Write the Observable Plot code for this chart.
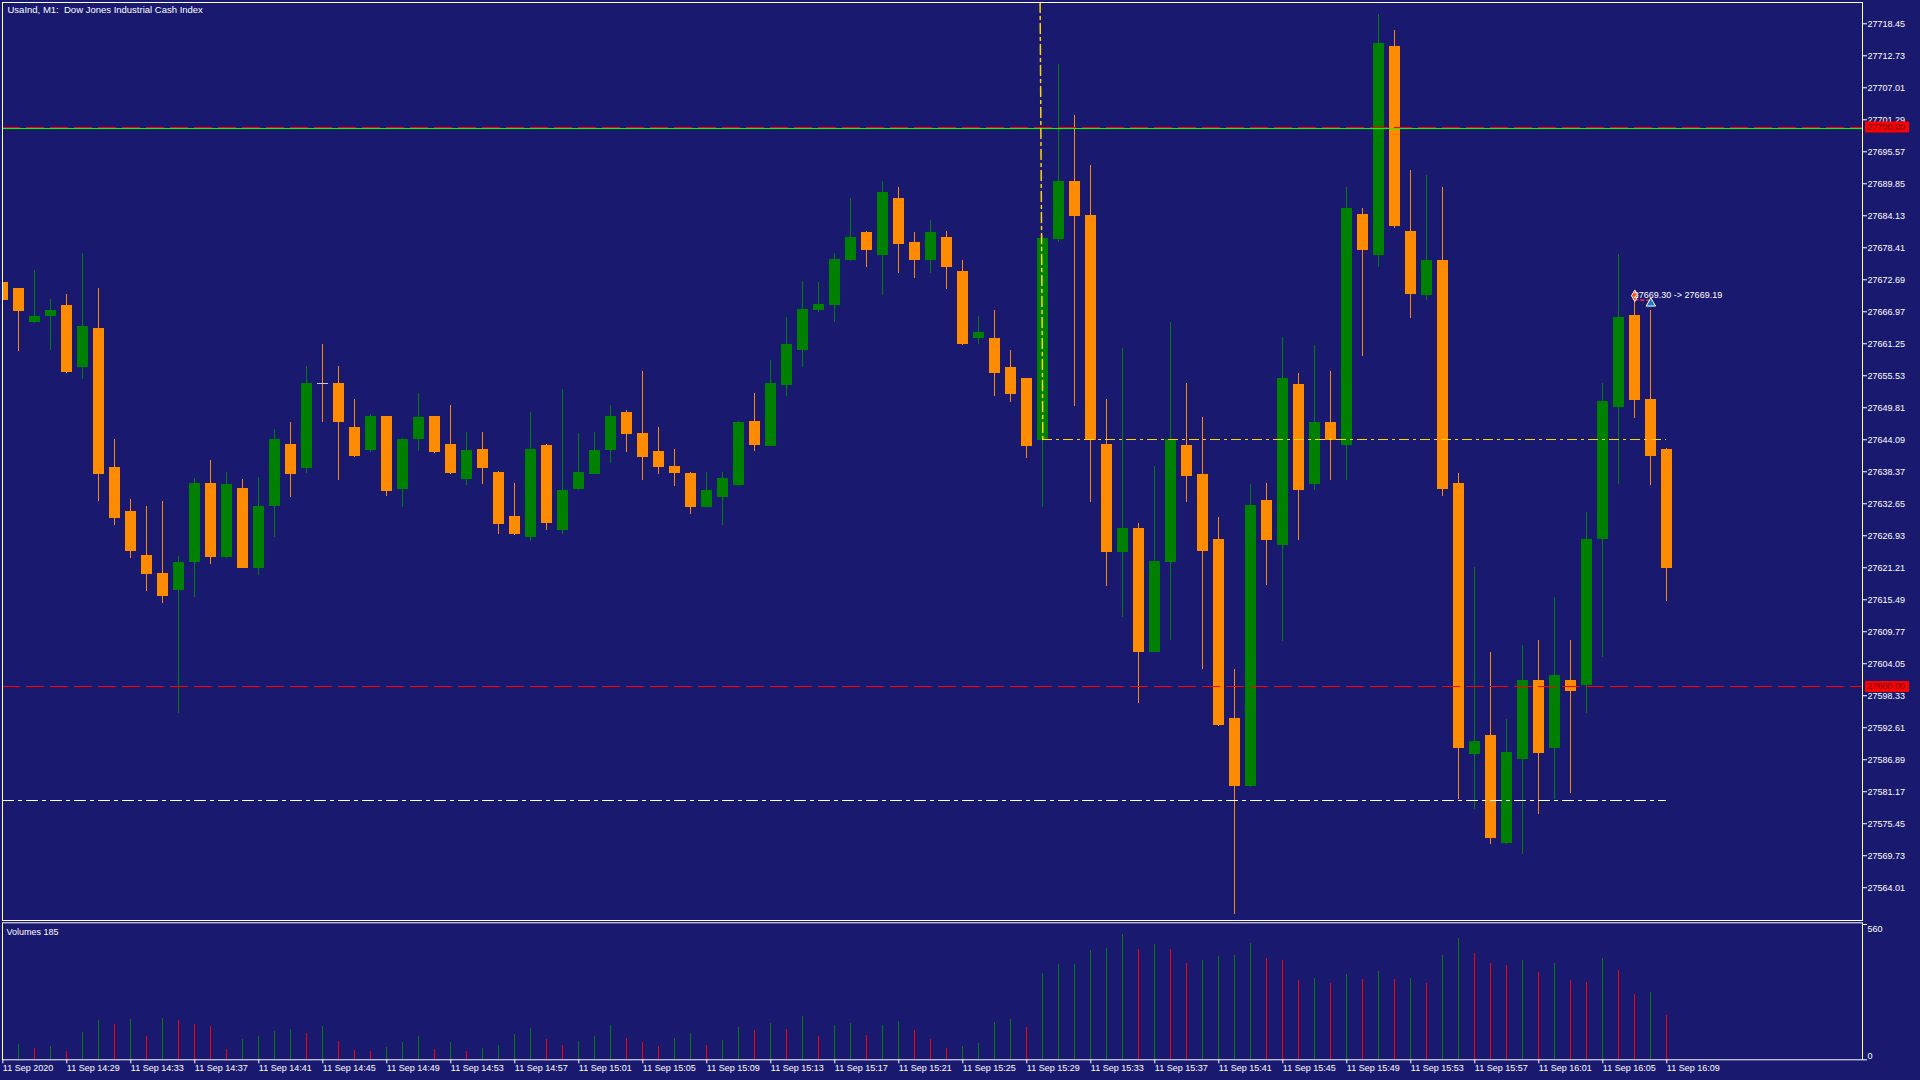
<!DOCTYPE html>
<html>
<head>
<meta charset="utf-8">
<script src="https://cdn.jsdelivr.net/npm/d3@7"></script>
<script src="https://cdn.jsdelivr.net/npm/@observablehq/plot@0.6"></script>
<style>
  body { margin: 0; background: #191970; }
  #chart { position: relative; width: 1920px; height: 1080px; overflow: hidden; }
  #chart svg { position: absolute; left: 0; }
</style>
</head>
<body>
<div id="chart"></div>
<script>
// UsaInd M1, 11 Sep 2020 14:25 .. 16:09 (one bar per minute)
const opens = [
  27672.2, 27671.1, 27665.0, 27666.1, 27668.1, 27657.0, 27664.0, 27639.1, 27631.2, 27623.4,
  27620.1, 27617.1, 27622.1, 27636.3, 27623.1, 27635.3, 27621.1, 27632.2, 27643.2, 27638.9,
  27654.1, 27654.1, 27646.2, 27642.2, 27648.2, 27635.2, 27644.2, 27648.2, 27643.2, 27637.0,
  27642.4, 27638.3, 27630.4, 27626.7, 27643.1, 27627.9, 27635.2, 27637.9, 27642.2, 27649.0,
  27645.2, 27642.0, 27639.3, 27638.1, 27632.0, 27633.8, 27635.9, 27647.3, 27642.9, 27653.8,
  27660.0, 27667.2, 27668.1, 27676.1, 27681.2, 27677.0, 27687.3, 27679.4, 27676.1, 27680.2,
  27674.2, 27662.2, 27662.2, 27657.0, 27655.0, 27644.0, 27679.9, 27690.3, 27684.2, 27643.2,
  27624.0, 27628.2, 27606.1, 27622.1, 27643.1, 27637.9, 27626.2, 27594.2, 27582.1, 27633.2,
  27625.2, 27654.0, 27636.1, 27647.2, 27643.1, 27684.3, 27677.0, 27714.4, 27681.3, 27669.8,
  27676.1, 27636.3, 27587.8, 27591.2, 27571.9, 27586.9, 27601.0, 27588.9, 27601.0, 27600.1,
  27626.2, 27649.9, 27666.3, 27651.3, 27642.4
];
const highs = [
  27672.8, 27671.1, 27674.3, 27669.1, 27670.0, 27677.4, 27671.1, 27644.2, 27633.4, 27632.2,
  27633.0, 27623.2, 27637.1, 27640.4, 27638.3, 27637.0, 27637.3, 27645.9, 27647.2, 27657.1,
  27661.1, 27657.1, 27651.3, 27648.6, 27648.3, 27644.3, 27652.3, 27648.3, 27650.2, 27645.3,
  27645.3, 27638.4, 27636.3, 27649.0, 27643.2, 27653.1, 27645.2, 27645.4, 27650.2, 27649.3,
  27656.3, 27646.2, 27642.4, 27638.3, 27638.3, 27638.3, 27647.3, 27652.3, 27658.2, 27666.0,
  27672.4, 27672.2, 27677.4, 27687.3, 27681.4, 27690.3, 27689.1, 27681.2, 27683.3, 27681.3,
  27676.1, 27666.1, 27667.2, 27660.0, 27655.1, 27680.6, 27711.2, 27702.0, 27693.2, 27651.3,
  27660.4, 27629.1, 27639.3, 27665.0, 27654.1, 27648.0, 27630.2, 27603.1, 27636.1, 27636.3,
  27662.4, 27655.9, 27660.9, 27656.3, 27689.1, 27685.4, 27720.1, 27717.3, 27692.2, 27691.3,
  27689.1, 27638.1, 27621.3, 27606.1, 27594.0, 27607.3, 27608.2, 27615.9, 27608.2, 27631.0,
  27654.1, 27677.2, 27669.3, 27667.2, 27642.5
];
const lows = [
  27668.5, 27659.9, 27664.9, 27660.0, 27656.0, 27654.8, 27633.0, 27628.7, 27622.9, 27617.0,
  27614.8, 27595.2, 27615.9, 27621.8, 27622.9, 27621.0, 27619.8, 27626.7, 27633.8, 27638.1,
  27647.1, 27636.8, 27641.0, 27641.9, 27634.0, 27631.9, 27642.0, 27641.7, 27637.9, 27636.0,
  27636.1, 27627.1, 27626.9, 27625.9, 27627.9, 27627.1, 27635.1, 27637.8, 27639.9, 27641.8,
  27636.8, 27637.9, 27635.8, 27630.7, 27631.9, 27628.7, 27635.8, 27642.0, 27642.8, 27651.9,
  27657.0, 27666.8, 27665.0, 27676.0, 27674.9, 27669.8, 27673.8, 27672.9, 27673.9, 27670.9,
  27660.9, 27661.1, 27651.8, 27650.8, 27640.7, 27631.9, 27679.3, 27650.1, 27632.8, 27617.8,
  27612.3, 27597.0, 27606.0, 27608.2, 27632.8, 27603.0, 27592.9, 27559.2, 27582.0, 27618.0,
  27608.0, 27626.1, 27635.1, 27636.8, 27636.8, 27659.0, 27674.9, 27681.8, 27665.7, 27669.0,
  27634.0, 27579.8, 27578.0, 27571.8, 27571.8, 27570.0, 27577.1, 27579.8, 27580.8, 27595.2,
  27605.1, 27636.1, 27647.9, 27635.9, 27615.1
];
const closes = [
  27669.0, 27667.0, 27666.1, 27667.2, 27656.1, 27664.3, 27637.9, 27630.0, 27624.1, 27620.0,
  27616.0, 27622.1, 27636.3, 27623.1, 27636.1, 27621.1, 27632.2, 27644.2, 27637.9, 27654.1,
  27654.1, 27647.1, 27641.1, 27648.2, 27634.8, 27644.2, 27648.0, 27641.8, 27638.1, 27642.2,
  27638.9, 27628.9, 27627.1, 27642.4, 27629.1, 27635.0, 27638.3, 27642.2, 27648.2, 27645.0,
  27640.9, 27639.1, 27638.1, 27632.0, 27635.0, 27637.1, 27647.2, 27643.1, 27654.1, 27661.2,
  27667.3, 27668.3, 27676.3, 27680.2, 27677.9, 27688.3, 27679.0, 27676.1, 27681.2, 27674.9,
  27661.1, 27663.2, 27655.9, 27652.1, 27642.9, 27680.0, 27690.3, 27684.0, 27644.0, 27623.9,
  27628.2, 27606.1, 27622.3, 27644.1, 27637.6, 27624.1, 27593.0, 27582.1, 27632.3, 27626.1,
  27655.1, 27635.0, 27647.2, 27644.0, 27685.4, 27677.9, 27715.0, 27682.2, 27670.0, 27676.1,
  27635.2, 27588.9, 27590.1, 27572.8, 27588.2, 27601.0, 27588.0, 27602.0, 27599.0, 27626.2,
  27651.0, 27666.0, 27651.1, 27641.1, 27621.1
];
const volumes = [
   45,  62,  46,  54,  33, 112, 162, 145, 166,  95,
  170, 162, 145, 137,  41,  83,  95, 116, 124, 108,
  137,  75,  37,  33,  50,  71,  95,  41,  71,  33,
   45,  60, 105, 130,  85,  60,  75,  95, 140,  90,
   70,  55,  90, 110,  60,  80, 135, 120, 150, 125,
  180,  95, 140, 150, 100, 140, 160, 120,  85,  48,
   54,  66, 154, 166, 133, 357, 394, 396, 452, 461,
  519, 456, 477, 456, 398, 411, 427, 432, 481, 419,
  411, 328, 336, 315, 353, 332, 365, 332, 336, 315,
  430, 500, 440, 400, 390, 410, 360, 400, 330, 320,
  420, 370, 270, 280, 185
];

// price axis and time axis
const priceTicks = [
  27718.45, 27712.73, 27707.01, 27701.29, 27695.57, 27689.85, 27684.13, 27678.41, 27672.69,
  27666.97, 27661.25, 27655.53, 27649.81, 27644.09, 27638.37, 27632.65, 27626.93, 27621.21,
  27615.49, 27609.77, 27604.05, 27598.33, 27592.61, 27586.89, 27581.17, 27575.45, 27569.73,
  27564.01
];
const volTicks = [0, 560];
const timeTicks = [0, 4, 8, 12, 16, 20, 24, 28, 32, 36, 40, 44, 48, 52, 56, 60, 64, 68, 72, 76, 80, 84, 88, 92, 96, 100, 104];
const timeLabels = [
  "11 Sep 2020", "11 Sep 14:29", "11 Sep 14:33", "11 Sep 14:37", "11 Sep 14:41", "11 Sep 14:45",
  "11 Sep 14:49", "11 Sep 14:53", "11 Sep 14:57", "11 Sep 15:01", "11 Sep 15:05", "11 Sep 15:09",
  "11 Sep 15:13", "11 Sep 15:17", "11 Sep 15:21", "11 Sep 15:25", "11 Sep 15:29", "11 Sep 15:33",
  "11 Sep 15:37", "11 Sep 15:41", "11 Sep 15:45", "11 Sep 15:49", "11 Sep 15:53", "11 Sep 15:57",
  "11 Sep 16:01", "11 Sep 16:05", "11 Sep 16:09"
];

// horizontal levels and the trade
const alertLevels = [27700.00, 27600.00];
const greenLevel = 27699.82;
const stopLevel = 27579.65;
const entryLevel = 27644.1;
const entryBar = 65;
const tradeLineBars = [64.83, 65];
const tradeLinePrices = [27722.26, 27644.1];
const closeBars = [102, 103];
const closePrices = [27669.30, 27669.19];

const bars = opens.map((o, i) => ({i, o, h: highs[i], l: lows[i], c: closes[i], v: volumes[i]}));
const lastBar = bars.length - 1;
const bull = "#008000", bear = "#ff8c00";
const bodyColor = d => d.c > d.o ? bull : bear;
const volColor = d => d.i === 0 || d.v > volumes[d.i - 1] ? "#008000" : "#ff0000";

const xDomain = [-0.02, 116.23];
const xEnd = xDomain[1];
const font = "'Liberation Sans', Arial, sans-serif";
const baseStyle = {background: "transparent", color: "white", fontFamily: font, fontSize: "9px", overflow: "visible"};

const main = Plot.plot({
  width: 1920,
  height: 922,
  marginTop: 2, marginBottom: 2, marginLeft: 2, marginRight: 58,
  style: baseStyle,
  x: {domain: xDomain, axis: null},
  y: {domain: [27558.15, 27722.26], axis: null},
  marks: [
    // candles
    Plot.ruleX(bars, {x: "i", y1: "l", y2: "h", stroke: bodyColor, strokeWidth: 1, shapeRendering: "crispEdges", clip: true}),
    Plot.ruleX(bars.filter(d => d.o !== d.c), {x: "i", y1: "o", y2: "c", stroke: bodyColor, strokeWidth: 11, shapeRendering: "crispEdges", clip: true}),
    Plot.ruleY(bars.filter(d => d.o === d.c), {y: "o", x1: d => d.i - 0.34, x2: d => d.i + 0.34, stroke: "#c8c8e6", shapeRendering: "crispEdges"}),

    // levels
    Plot.ruleY([greenLevel], {stroke: "#00ff00", shapeRendering: "crispEdges"}),
    Plot.ruleY(alertLevels, {stroke: "#ff0000", strokeDasharray: "18,6", shapeRendering: "crispEdges"}),
    Plot.ruleY([stopLevel], {x1: xDomain[0], x2: lastBar, stroke: "white", strokeDasharray: "12,4,4,4", shapeRendering: "crispEdges"}),
    Plot.ruleY([entryLevel], {x1: entryBar, x2: lastBar, stroke: "#ffd700", strokeDasharray: "10,4,3,4", shapeRendering: "crispEdges"}),
    Plot.line(tradeLineBars.map((x, k) => ({x, y: tradeLinePrices[k]})), {x: "x", y: "y", stroke: "#ffd700", strokeDasharray: "10,4,3,4"}),

    // closed trade marks
    Plot.line(closeBars.map((x, k) => ({x, y: closePrices[k]})), {x: "x", y: "y", stroke: "#ff3030", strokeDasharray: "3,3", dy: 1}),
    Plot.dot([{x: closeBars[0], y: closePrices[0]}], {x: "x", y: "y", symbol: "diamond", r: 3.5, fill: "#ff4500", stroke: "white", strokeWidth: 1, dy: -3}),
    Plot.dot([{x: closeBars[1], y: closePrices[1]}], {x: "x", y: "y", symbol: "triangle", r: 3.5, fill: "#1e78c8", stroke: "white", strokeWidth: 1, dy: 4}),
    Plot.text([{x: closeBars[0], y: closePrices[0]}], {
      x: "x", y: "y", text: () => `${closePrices[0].toFixed(2)} -> ${closePrices[1].toFixed(2)}`,
      textAnchor: "start", dx: -1, dy: -4, fill: "white"
    }),

    Plot.frame({stroke: "white"}),
    Plot.axisY({anchor: "right", label: null, ticks: priceTicks, tickSize: 4, tickPadding: 1, tickFormat: d => d.toFixed(2)}),

    // price tags of the alert levels
    Plot.ruleY(alertLevels, {x1: xEnd + 0.19, x2: xEnd + 2.94, stroke: "#ff0000", strokeWidth: 11}),
    Plot.text(alertLevels, {y: d => d, x: xEnd + 0.31, text: d => d.toFixed(2), textAnchor: "start", fill: "#600000"}),

    Plot.text(["UsaInd, M1:  Dow Jones Industrial Cash Index"], {frameAnchor: "top-left", dx: 5, dy: 4, lineAnchor: "top", fill: "white", fontSize: 9.5})
  ]
});
main.style.top = "0px";

const volume = Plot.plot({
  width: 1920,
  height: 160,
  marginTop: 2.3, marginBottom: 20.7, marginLeft: 2, marginRight: 58,
  style: baseStyle,
  x: {domain: xDomain, axis: null},
  y: {domain: [0, 567], axis: null},
  marks: [
    Plot.ruleX(bars, {x: "i", y1: 0, y2: "v", stroke: volColor, strokeWidth: 1, shapeRendering: "crispEdges", clip: true}),
    Plot.frame({stroke: "white"}),
    Plot.axisY({anchor: "right", label: null, ticks: volTicks, tickSize: 4, tickFormat: () => ""}),
    Plot.text([volTicks[1]], {y: d => d, text: d => String(d), frameAnchor: "right", dx: 5, dy: 1, textAnchor: "start", lineAnchor: "top", fill: "white"}),
    Plot.text([volTicks[0]], {y: d => d, text: d => String(d), frameAnchor: "right", dx: 5, dy: -1, textAnchor: "start", lineAnchor: "bottom", fill: "white"}),
    Plot.axisX({
      anchor: "bottom", label: null, ticks: timeTicks, tickSize: 4, tickPadding: 1, textAnchor: "start",
      tickFormat: d => timeLabels[timeTicks.indexOf(d)]
    }),
    Plot.text([`Volumes ${volumes[lastBar]}`], {frameAnchor: "top-left", dx: 4, dy: 6, lineAnchor: "top", fill: "white"})
  ]
});
volume.style.top = "920px";

const chart = d3.select("#chart");
chart.append(() => main);
chart.append(() => volume);
</script>
</body>
</html>
